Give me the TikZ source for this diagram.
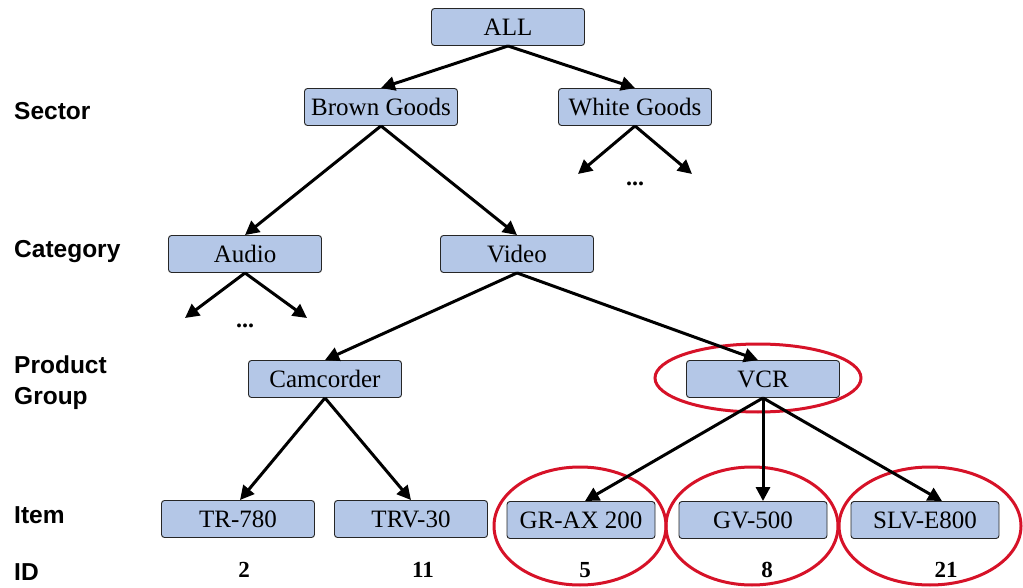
\documentclass[tikz,border=0pt]{standalone}
\usepackage{fontspec}
\setmainfont{Liberation Serif}
\newfontfamily\levelfont{Liberation Sans}
\usetikzlibrary{arrows.meta,calc}
\definecolor{boxfill}{RGB}{180,199,231}
\definecolor{ringred}{RGB}{214,18,40}
\begin{document}
\begin{tikzpicture}[x=1pt,y=-1pt,
  cat/.style={draw=black!85,line width=0.9pt,fill=boxfill,rounded corners=3pt,
    minimum width=153pt,minimum height=37pt,inner sep=0pt,
    font=\fontsize{25}{28}\selectfont},
  level/.style={anchor=west,inner sep=0pt,font=\levelfont\bfseries\fontsize{24.5}{31}\selectfont,align=left},
  idtext/.style={font=\bfseries\fontsize{23}{27}\selectfont},
  dots/.style={font=\bfseries\fontsize{24}{26}\selectfont},
  link/.style={line width=3pt,-{Triangle[length=14pt,width=14pt]}},
  ring/.style={draw=ringred,line width=3pt}]
\useasboundingbox (0,0) rectangle (1023,588);

% highlighted members
\draw[ring] (758,378) ellipse [x radius=103pt,y radius=34pt];
\draw[ring] (580,526) ellipse [x radius=86pt,y radius=59pt];
\draw[ring] (752,526) ellipse [x radius=86pt,y radius=59pt];
\draw[ring] (930,526) ellipse [x radius=91pt,y radius=59pt];

% hierarchy levels
\node[level] (lsector) at (14,111) {Sector};
\node[level] (lcat) at (14,252) {Category};
\node[level] (lgroup) at (14,383) {Product\\Group};
\node[level] (litem) at (14,515) {Item};
\node[level] (lid) at (14,572) {ID};

% category nodes
\node[cat] (all) at (508,27) {ALL};
\node[cat] (brown) at (381,107) {Brown Goods};
\node[cat] (white) at (635,107) {White Goods};
\node[cat] (audio) at (245,254) {Audio};
\node[cat] (video) at (517,254) {Video};
\node[cat] (camc) at (325,379) {Camcorder};
\node[cat] (vcr) at (763,379) {VCR};
\node[cat] (tr) at (238,519) {TR-780};
\node[cat] (trv) at (411,519) {TRV-30};
\node[cat,minimum width=148pt] (grax) at (581,520) {GR-AX 200};
\node[cat,minimum width=148pt] (gv) at (753,520) {GV-500};
\node[cat,minimum width=148pt] (slv) at (925,520) {SLV-E800};

% item identifiers
\node[idtext] (id2) at (244,570) {2};
\node[idtext] (id11) at (423,570) {11};
\node[idtext] (id5) at (585,570) {5};
\node[idtext] (id8) at (767,570) {8};
\node[idtext] (id21) at (946,570) {21};

% open ends of unexpanded branches
\coordinate (w1) at (578,174);
\coordinate (w2) at (692,174);
\coordinate (a1) at (185,318);
\coordinate (a2) at (307,318);
\node[dots] (wdots) at (635,184) {...};
\node[dots] (adots) at (245,326) {...};

% links
\draw[link] (all.south) -- (brown.north);
\draw[link] (all.south) -- (white.north);
\draw[link] (white.south) -- (w1);
\draw[link] (white.south) -- (w2);
\draw[link] (brown.south) -- (audio.north);
\draw[link] (brown.south) -- (video.north);
\draw[link] (audio.south) -- (a1);
\draw[link] (audio.south) -- (a2);
\draw[link] (video.south) -- (camc.north);
\draw[link] (video.south) -- ($(vcr.north)+(-5,0)$);
\draw[link] (camc.south) -- ($(tr.north)+(2,0)$);
\draw[link] (camc.south) -- (trv.north);
\draw[link] (vcr.south) -- ($(grax.north)+(4,0)$);
\draw[link] (vcr.south) -- (gv.north -| vcr.south);
\draw[link] (vcr.south) -- ($(slv.north)+(17,0)$);
\end{tikzpicture}
\end{document}
